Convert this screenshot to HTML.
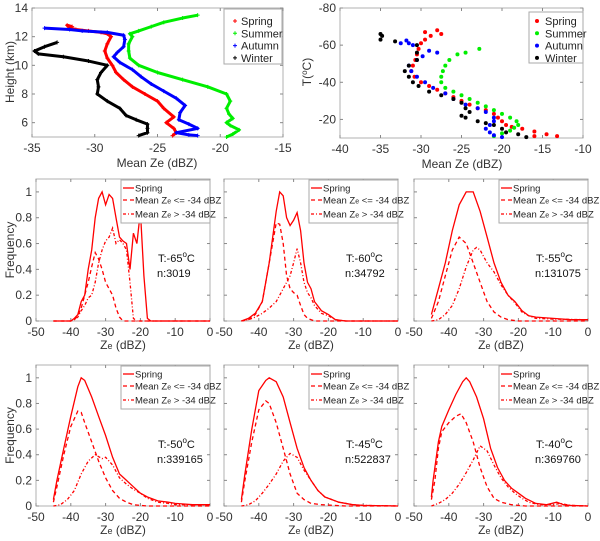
<!DOCTYPE html>
<html><head><meta charset="utf-8"><style>
body{margin:0;background:#fff;}
svg{display:block;font-family:"Liberation Sans",Arial,sans-serif;}
</style></head><body>
<svg id="fig" width="600" height="541" viewBox="0 0 600 541"></svg>
<script>
// ---------- top-left: height profiles [Ze, H] ----------
const hSpring=[[-23.8,5.1],[-23.5,5.3],[-23.7,5.6],[-24.3,6.0],[-23.7,6.4],[-24.5,7],[-25,7.5],[-26,8],[-27,8.5],[-27.7,9],[-28.3,9.5],[-28.6,10],[-29,10.5],[-29.2,11],[-29,11.5],[-28.7,12],[-29,12.2],[-29.5,12.3],[-30.5,12.4],[-31.5,12.5],[-32,12.6],[-32.2,12.8],[-31.8,12.7]];
const hSummer=[[-19.5,5.0],[-19,5.2],[-18.5,5.5],[-19.2,5.8],[-19.5,6.0],[-19,6.3],[-19.3,6.6],[-19.5,7],[-19.2,7.5],[-19.5,8],[-21,8.5],[-23,9],[-25,9.5],[-26.5,10],[-27.2,10.5],[-27.3,11],[-27.3,11.5],[-27,12],[-27.2,12.2],[-26.5,12.4],[-25.5,12.7],[-24.5,13],[-23,13.3],[-21.8,13.5]];
const hAutumn=[[-21.8,5.1],[-22.5,5.15],[-23.5,5.3],[-21.8,5.6],[-22.5,5.9],[-23.3,6.2],[-23.2,6.7],[-22.8,7.2],[-23.5,7.7],[-24.5,8.2],[-25.5,8.7],[-26.3,9.2],[-27,9.7],[-28,10.2],[-28.5,10.6],[-28.2,10.9],[-27.7,11.3],[-27.6,11.8],[-27.7,12.1],[-29,12.3],[-31,12.4],[-32,12.5],[-34,12.6]];
const hWinter=[[-26.5,5.1],[-25.8,5.3],[-25.8,5.6],[-25.8,5.9],[-26.7,6.2],[-27.5,6.5],[-28,7],[-29,7.5],[-29.8,8],[-29.7,8.5],[-29.8,9],[-29.5,9.5],[-29,10],[-30.5,10.3],[-32.5,10.6],[-34.5,10.8],[-34.8,11],[-34,11.3],[-33,11.6]];
// ---------- top-right: temperature profiles [Ze, T] ----------
const tSpring=[[-13.2,-11],[-14.5,-12],[-16,-11],[-16,-13.5],[-17.5,-15],[-18.8,-16],[-19.5,-17],[-20,-19],[-20.5,-21],[-21,-23],[-22,-25],[-23,-26],[-24,-28],[-25,-30],[-26,-32],[-27,-34],[-28,-36],[-29,-38],[-30,-40],[-30.8,-43],[-31.2,-46],[-31,-49],[-30.7,-52],[-30.5,-55],[-30.3,-58],[-30,-61],[-29.5,-63],[-28.8,-65],[-29.5,-67],[-28,-68],[-27.5,-66]];
const tSummer=[[-21,-11],[-20,-12.5],[-19,-14],[-18.5,-15.5],[-18,-17],[-18.2,-19],[-19,-21],[-20,-23],[-21,-25],[-22,-27],[-23,-29],[-24,-31],[-25,-33],[-26,-35],[-27,-37],[-27.5,-40],[-27.5,-43],[-27.3,-46],[-27,-49],[-26.5,-52],[-25.5,-55],[-24.5,-56],[-22.8,-58]];
const tAutumn=[[-20,-10.5],[-21,-11.5],[-21.5,-13],[-22,-15],[-21.5,-17],[-21,-19],[-21,-21],[-22,-24],[-23,-26],[-24.5,-28],[-26,-31],[-27,-34],[-28.5,-37],[-29.5,-40],[-30.5,-43],[-31.2,-46],[-31.5,-49],[-30.5,-52],[-29.8,-54],[-29,-57],[-28,-56],[-31,-60],[-31.5,-61],[-31.8,-62.5],[-32.5,-61]];
const tWinter=[[-17,-10.5],[-18,-12],[-19.5,-13],[-20,-15],[-21,-17],[-22,-18],[-23,-19],[-24.5,-21],[-25,-22],[-24,-24],[-24.5,-26],[-25,-29],[-26,-31],[-27.5,-33],[-29,-35],[-30.3,-38],[-31,-40],[-31.5,-43],[-32,-46],[-31.5,-49],[-30.5,-52],[-30.5,-56],[-30.5,-60],[-33.2,-62],[-35,-63],[-34.8,-65],[-35,-66]];
// ---------- histograms [Ze, freq] ----------
const p65All=[[-45,0],[-40,0],[-39,0.02],[-38,0.05],[-37,0.15],[-36,0.2],[-35,0.4],[-34,0.55],[-33,0.8],[-32,0.95],[-31,1.0],[-30,0.9],[-29,0.98],[-28,0.95],[-27,0.8],[-26,0.65],[-25,0.62],[-24,0.6],[-23,0.4],[-22,0.68],[-21,0.6],[-20,0.85],[-19,0.35],[-18,0.02],[-17,0],[0,0]];
const p65Low=[[-45,0],[-40,0],[-39,0.01],[-38,0.04],[-37,0.1],[-36,0.2],[-35,0.3],[-34,0.42],[-33,0.53],[-32,0.48],[-31,0.4],[-30,0.3],[-29,0.25],[-28,0.2],[-27,0.1],[-26,0.03],[-25,0],[0,0]];
const p65High=[[-45,0],[-40,0],[-39,0.01],[-38,0.03],[-37,0.08],[-36,0.12],[-35,0.18],[-34,0.2],[-33,0.3],[-32,0.45],[-31,0.55],[-30,0.62],[-29,0.65],[-28,0.72],[-27,0.6],[-26,0.63],[-25,0.6],[-24,0.55],[-23,0.3],[-22,0.02],[-21,0],[0,0]];
const p60All=[[-45,0],[-43,0.02],[-41,0.06],[-39,0.15],[-37,0.45],[-35,0.85],[-34,1.0],[-33,0.97],[-32,0.8],[-31,0.74],[-30,0.78],[-29,0.84],[-28,0.7],[-27,0.45],[-26,0.3],[-25,0.25],[-24,0.15],[-22,0.08],[-20,0.05],[-18,0.01],[-15,0],[0,0]];
const p60Low=[[-45,0],[-43,0.01],[-41,0.05],[-39,0.15],[-37,0.45],[-35,0.76],[-34,0.75],[-33,0.6],[-32,0.35],[-31,0.25],[-30,0.22],[-29,0.2],[-28,0.12],[-27,0.05],[-26,0.02],[-24,0],[0,0]];
const p60High=[[-45,0],[-43,0.01],[-41,0.03],[-39,0.06],[-37,0.1],[-35,0.15],[-33,0.25],[-31,0.35],[-30,0.45],[-29,0.56],[-28,0.45],[-27,0.3],[-26,0.22],[-25,0.18],[-24,0.12],[-22,0.06],[-20,0.04],[-18,0.01],[-15,0],[0,0]];
const p55All=[[-45,0.05],[-43,0.25],[-41,0.45],[-39,0.7],[-37,0.9],[-35,1.0],[-33,1.0],[-31,0.85],[-29,0.65],[-27,0.45],[-25,0.3],[-23,0.2],[-21,0.15],[-19,0.08],[-17,0.04],[-15,0.03],[-10,0.02],[-5,0.01],[0,0.01]];
const p55Low=[[-45,0.02],[-43,0.15],[-41,0.35],[-39,0.55],[-37,0.65],[-35,0.6],[-33,0.45],[-31,0.3],[-29,0.15],[-27,0.07],[-25,0.03],[-23,0.01],[-20,0],[0,0]];
const p55High=[[-45,0],[-43,0.01],[-41,0.05],[-39,0.12],[-37,0.25],[-35,0.42],[-33,0.55],[-32,0.57],[-31,0.55],[-29,0.45],[-27,0.38],[-25,0.28],[-23,0.2],[-21,0.14],[-19,0.07],[-17,0.04],[-15,0.02],[-10,0.015],[0,0.01]];
const p50All=[[-45,0.05],[-44,0.2],[-42,0.45],[-40,0.7],[-38,0.93],[-37,1.0],[-36,0.98],[-34,0.85],[-32,0.7],[-30,0.55],[-28,0.38],[-26,0.25],[-24,0.2],[-22,0.15],[-20,0.1],[-18,0.07],[-15,0.04],[-12,0.03],[-10,0.02],[-5,0.01],[0,0.01]];
const p50Low=[[-45,0.03],[-44,0.15],[-42,0.4],[-40,0.62],[-38,0.74],[-37,0.73],[-36,0.65],[-34,0.5],[-32,0.35],[-30,0.22],[-28,0.12],[-26,0.06],[-24,0.03],[-22,0.01],[-18,0],[0,0]];
const p50High=[[-45,0],[-43,0.01],[-41,0.05],[-39,0.12],[-37,0.25],[-35,0.35],[-33,0.4],[-31,0.37],[-30,0.38],[-28,0.32],[-26,0.22],[-24,0.17],[-22,0.13],[-20,0.1],[-18,0.06],[-15,0.03],[-12,0.02],[-10,0.01],[0,0.01]];
const p45All=[[-45,0.05],[-44,0.25],[-42,0.6],[-40,0.9],[-38,0.98],[-37,1.0],[-35,0.97],[-33,0.85],[-31,0.65],[-29,0.45],[-27,0.3],[-25,0.2],[-23,0.12],[-21,0.07],[-19,0.05],[-17,0.03],[-13,0.01],[-10,0.005],[0,0]];
const p45Low=[[-45,0.03],[-44,0.2],[-42,0.5],[-40,0.75],[-38,0.82],[-37,0.8],[-35,0.65],[-33,0.45],[-31,0.25],[-29,0.1],[-27,0.05],[-25,0.02],[-22,0.01],[-15,0],[0,0]];
const p45High=[[-45,0],[-43,0.01],[-41,0.04],[-39,0.1],[-37,0.17],[-35,0.25],[-33,0.35],[-31,0.41],[-29,0.38],[-27,0.28],[-25,0.2],[-23,0.12],[-21,0.07],[-19,0.05],[-17,0.03],[-13,0.01],[-10,0.005],[0,0]];
const p40All=[[-45,0.07],[-44.5,0.2],[-43,0.5],[-42,0.62],[-40,0.75],[-38,0.87],[-36,0.97],[-35,1.0],[-34,0.97],[-32,0.85],[-30,0.68],[-28,0.45],[-26,0.3],[-24,0.2],[-22,0.14],[-20,0.1],[-18,0.06],[-15,0.02],[-12,0.01],[-9,0.03],[-7,0.01],[-5,0.005],[0,0]];
const p40Low=[[-45,0.05],[-44,0.2],[-43,0.45],[-42,0.58],[-40,0.65],[-38,0.7],[-36.5,0.72],[-35,0.65],[-33,0.5],[-31,0.3],[-29,0.15],[-27,0.06],[-25,0.03],[-22,0.01],[-18,0],[0,0]];
const p40High=[[-45,0],[-43,0.02],[-41,0.05],[-39,0.1],[-37,0.17],[-35,0.26],[-33,0.36],[-31,0.47],[-29,0.43],[-27,0.32],[-25,0.22],[-23,0.15],[-21,0.1],[-19,0.06],[-17,0.03],[-14,0.01],[-10,0.01],[-8,0.02],[-5,0.005],[0,0]];
const panelTemps=["-65","-60","-55","-50","-45","-40"];
const panelCounts=["3019","34792","131075","339165","522837","369760"];
const seasons=["Spring","Summer","Autumn","Winter"];
const seasonColors=["#ff0000","#00ee00","#0000ff","#000000"];
const histTicksX=[-50,-40,-30,-20,-10,0];
const histTicksY=[0,0.2,0.4,0.6,0.8,1];

const NS="http://www.w3.org/2000/svg";
const svg=document.getElementById('fig');
function mk(tag,attrs,parent){const e=document.createElementNS(NS,tag);for(const k in attrs)e.setAttribute(k,attrs[k]);(parent||svg).appendChild(e);return e;}
function txt(x,y,s,opt,parent){const t=mk('text',Object.assign({x:x,y:y,'font-size':11,fill:'#333','text-anchor':'middle'},opt||{}),parent);t.textContent=s;return t;}
function lin(d0,d1,r0,r1){return v=>r0+(v-d0)/(d1-d0)*(r1-r0);}

function axesBox(g,x0,y0,x1,y1){
  const r=mk('rect',{x:x0,y:y0,width:x1-x0,height:y1-y0,fill:'none',stroke:'#b0b0b0','stroke-width':1},g);
  
  
}
function xTicks(g,sx,vals,yb,yt,labels){
  vals.forEach(v=>{const x=sx(v);
    mk('line',{x1:x,x2:x,y1:yb,y2:yb-3,stroke:'#888'},g);mk('line',{x1:x,x2:x,y1:yt,y2:yt+3,stroke:'#888'},g);
    if(labels){const t=txt(x,yb+15,String(v),{'font-size':12},g);
      
      }
  });
}
function yTicks(g,sy,vals,xl,xr,labels,fmt){
  vals.forEach(v=>{const y=sy(v);
    mk('line',{x1:xl,x2:xl+3,y1:y,y2:y,stroke:'#888'},g);mk('line',{x1:xr,x2:xr-3,y1:y,y2:y,stroke:'#888'},g);
    if(labels){const t=txt(xl-4,y+4,fmt?fmt(v):String(v),{'font-size':12,'text-anchor':'end'},g);
      
      }
  });
}

// ===== top-left panel =====
(function(){
  const g=mk('g',{});
  
  
  const X0=32,X1=283,Y0=8,Y1=137;
  const sx=lin(-35,-15,X0,X1), sy=lin(5,14,Y1,Y0);
  axesBox(g,X0,Y0,X1,Y1);
  xTicks(g,sx,[-35,-30,-25,-20,-15],Y1,Y0,true);
  yTicks(g,sy,[6,8,10,12,14],X0,X1,true);
  const yl=txt(14,72,'Height (km)',{'font-size':12,transform:'rotate(-90 14 72)'},g);
  
  
  const xl=txt(157,167,'Mean Ze  (dBZ)',{'font-size':12},g);
  
  
  [hSpring,hSummer,hAutumn,hWinter].forEach((s,i)=>{
    const c=seasonColors[i];
    const pl=mk('polyline',{points:s.map(p=>sx(p[0])+','+sy(p[1])).join(' '),fill:'none',stroke:c,'stroke-width':3,'stroke-linejoin':'round'},g);
    
    
    s.forEach(p=>{const x=sx(p[0]),y=sy(p[1]);
      mk('path',{d:`M${x-2},${y}h4M${x},${y-2}v4`,stroke:c,'stroke-width':1},g);});
  });
  const lg=mk('g',{},g);
  
  
  mk('rect',{x:224,y:9,width:58,height:55,fill:'#fff',stroke:'#aaa'},lg);
  seasons.forEach((n,i)=>{const y=21+i*12.3;
    mk('path',{d:`M${233},${y}h4M${235},${y-2}v4`,stroke:seasonColors[i]},lg);
    const t=txt(241,y+4,n,{'font-size':11,'text-anchor':'start',fill:'#222'},lg);
    
    });
})();

// ===== top-right panel =====
(function(){
  const g=mk('g',{});
  
  
  const X0=340,X1=583,Y0=8,Y1=138;
  const sx=lin(-40,-10,X0,X1), sy=lin(-10,-80,Y1,Y0);
  axesBox(g,X0,Y0,X1,Y1);
  xTicks(g,sx,[-40,-35,-30,-25,-20,-15,-10],Y1,Y0,true);
  yTicks(g,sy,[-80,-60,-40,-20],X0,X1,true);
  const yl=mk('text',{x:0,y:0,'font-size':12,fill:'#333','text-anchor':'middle',transform:'translate(311 72) rotate(-90)'},g);
  yl.innerHTML='T(<tspan dy="-4" font-size="8">o</tspan><tspan dy="4">C)</tspan>';
  
  
  const xl=txt(462,168,'Mean Ze  (dBZ)',{'font-size':12},g);
  
  
  [tSpring,tSummer,tAutumn,tWinter].forEach((s,i)=>{
    s.forEach(p=>{const d=mk('circle',{cx:sx(p[0]),cy:sy(p[1]),r:2,fill:seasonColors[i]},g);
      
      });
  });
  const lg=mk('g',{},g);
  
  
  mk('rect',{x:529,y:12,width:54,height:51,fill:'#fff',stroke:'#aaa'},lg);
  seasons.forEach((n,i)=>{const y=21+i*12.3;
    mk('circle',{cx:537,cy:y,r:2,fill:seasonColors[i]},lg);
    const t=txt(545,y+4,n,{'font-size':11,'text-anchor':'start',fill:'#222'},lg);
    
    });
})();

// ===== histogram panels =====
const histSets=[[p65All,p65Low,p65High],[p60All,p60Low,p60High],[p55All,p55Low,p55High],[p50All,p50Low,p50High],[p45All,p45Low,p45High],[p40All,p40Low,p40High]];
const colX=[36,224,414], colW=174;
const rowTop=[179,365], rowBot=[321,506];
histSets.forEach((set,k)=>{
  const c=k%3,r=Math.floor(k/3);
  const X0=colX[c],X1=X0+colW,Y0=rowTop[r],Y1=rowBot[r];
  const g=mk('g',{});
  
  
  const sx=lin(-50,0,X0,X1), sy=lin(0,1.1,Y1,Y0);
  axesBox(g,X0,Y0,X1,Y1);
  xTicks(g,sx,histTicksX,Y1,Y0,true);
  yTicks(g,sy,histTicksY,X0,X1,c===0);
  const xl=mk('text',{x:(X0+X1)/2,y:Y1+28,'font-size':12,fill:'#333','text-anchor':'middle'},g);
  xl.innerHTML='Z<tspan font-size="9">e</tspan> (dBZ)';
  
  
  if(c===0){const yl=txt(14,(Y0+Y1)/2,'Frequency',{'font-size':12,transform:`rotate(-90 14 ${(Y0+Y1)/2})`},g);
    
    }
  const dashes=['none','4,3','3,2,1,2'];
  const names=['spring-all','mean-ze-le-34','mean-ze-gt-34'];
  set.forEach((s,j)=>{
    const pl=mk('polyline',{points:s.map(p=>sx(p[0]).toFixed(1)+','+sy(p[1]).toFixed(1)).join(' '),fill:'none',stroke:'#ff0000','stroke-width':1.3,'stroke-dasharray':dashes[j]},g);
    
    
  });
  const lg=mk('g',{},g);
  
  
  const lx=X1-89,ly=Y0+1;
  mk('rect',{x:lx,y:ly,width:89,height:43,fill:'#fff',stroke:'#aaa'},lg);
  const labs=['Spring','Mean Z<tspan font-size="7">e</tspan> &lt;= -34 dBZ','Mean Z<tspan font-size="7">e</tspan> &gt; -34 dBZ'];
  [8,20,34].forEach((dy,j)=>{
    mk('line',{x1:lx+2,x2:lx+13,y1:ly+dy,y2:ly+dy,stroke:'#ff0000','stroke-width':1.3,'stroke-dasharray':dashes[j]},lg);
    const t=mk('text',{x:lx+14,y:ly+dy+3.5,'font-size':9.5,fill:'#222'},lg);
    t.innerHTML=labs[j];
    
    
  });
  const ta=mk('text',{x:X0+122,y:Y0+83,'font-size':11,fill:'#111'},g);
  ta.innerHTML='T:'+panelTemps[k]+'<tspan dy="-5" font-size="8">o</tspan><tspan dy="5">C</tspan>';
  
  
  const na=txt(X0+121,Y0+98,'n:'+panelCounts[k],{'font-size':11,fill:'#111','text-anchor':'start'},g);
  
  
});
</script>
</body></html>
